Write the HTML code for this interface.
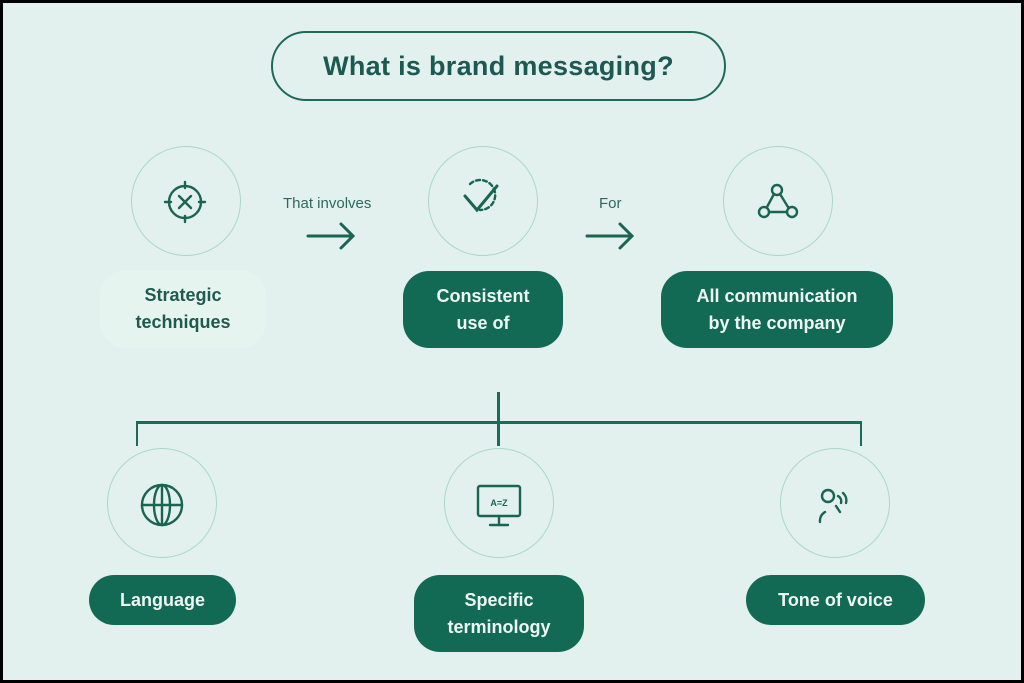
<!DOCTYPE html>
<html><head><meta charset="utf-8"><style>
*{margin:0;padding:0;box-sizing:border-box}
body{width:1024px;height:683px;background:#000;position:relative;overflow:hidden;font-family:"Liberation Sans",sans-serif}
.bg{position:absolute;left:3px;top:3px;width:1018px;height:677px;background:#e2f1ee}
.title{position:absolute;left:271px;top:31px;width:455px;height:70px;border:2px solid #1e6a5a;border-radius:36px;color:#1d5852;font-size:27px;font-weight:bold;display:flex;align-items:center;justify-content:center;letter-spacing:0.3px}
.circ{position:absolute;border:1px solid #a9d8c8;border-radius:50%}
.pill{position:absolute;background:#136a54;color:#eef7f3;border-radius:26px;font-weight:bold;font-size:18px;display:flex;align-items:center;justify-content:center;text-align:center;line-height:27px}
.lbl{position:absolute;color:#2b6a5e;font-size:15px}
.ln{position:absolute;background:#1e6a5a}
svg{position:absolute}
</style></head><body>
<div class="bg"></div>
<div class="title">What is brand messaging?</div>

<div class="circ" style="left:131px;top:146px;width:110px;height:110px"></div>
<div class="circ" style="left:428px;top:146px;width:110px;height:110px"></div>
<div class="circ" style="left:723px;top:146px;width:110px;height:110px"></div>
<div class="circ" style="left:107px;top:448px;width:110px;height:110px"></div>
<div class="circ" style="left:444px;top:448px;width:110px;height:110px"></div>
<div class="circ" style="left:780px;top:448px;width:110px;height:110px"></div>

<svg width="1024" height="683" style="left:0;top:0" fill="none" stroke="#1a6452" stroke-width="2.4" stroke-linecap="round">
<circle cx="185" cy="202" r="16"/><path d="M185 182v6M185 216v6M165 202h6M199 202h6M179 196l12 12M191 196l-12 12"/>
<path d="M465 196l12 14l20-24" stroke-width="3"/><path d="M470 184a15 15 0 1 1 10 26" stroke-dasharray="4 3"/>
<circle cx="777" cy="190" r="5"/><circle cx="764" cy="212" r="5"/><circle cx="792" cy="212" r="5"/><path d="M774 194l-7 13M780 194l8 13M769 212h18"/>
<circle cx="162" cy="505" r="20"/><ellipse cx="162" cy="505" rx="8" ry="20"/><path d="M142 505h40M162 485v40"/>
<rect x="478" y="486" width="42" height="30" rx="2"/><path d="M499 516v8M490 525h18"/>
<text x="499" y="506" font-size="9" fill="#1a6452" stroke="none" text-anchor="middle" font-family="Liberation Sans" font-weight="bold">A=Z</text>
<circle cx="828" cy="496" r="6"/><path d="M820 522a10 10 0 0 1 5-10M836 506l4 6M838 496a6 6 0 0 1 3 7M843 493a10 10 0 0 1 3 10"/>
<path d="M308 236h45M341 224l12 12l-12 12" stroke-width="3"/>
<path d="M587 236h45M620 224l12 12l-12 12" stroke-width="3"/>
</svg>
<div class="lbl" style="left:283px;top:195px">That involves</div>
<div class="lbl" style="left:599px;top:195px">For</div>

<div class="pill" style="left:100px;top:270px;width:166px;height:78px;background:#e6f4f0;color:#1f5a4e">Strategic<br>techniques</div>
<div class="pill" style="left:403px;top:271px;width:160px;height:77px">Consistent<br>use of</div>
<div class="pill" style="left:661px;top:271px;width:232px;height:77px">All communication<br>by the company</div>

<div class="ln" style="left:497px;top:392px;width:2.5px;height:54px"></div>
<div class="ln" style="left:136px;top:421px;width:726px;height:2.5px"></div>
<div class="ln" style="left:136px;top:421px;width:2px;height:25px"></div>
<div class="ln" style="left:860px;top:421px;width:2px;height:25px"></div>

<div class="pill" style="left:89px;top:575px;width:147px;height:50px">Language</div>
<div class="pill" style="left:414px;top:575px;width:170px;height:77px">Specific<br>terminology</div>
<div class="pill" style="left:746px;top:575px;width:179px;height:50px">Tone of voice</div>
</body></html>
